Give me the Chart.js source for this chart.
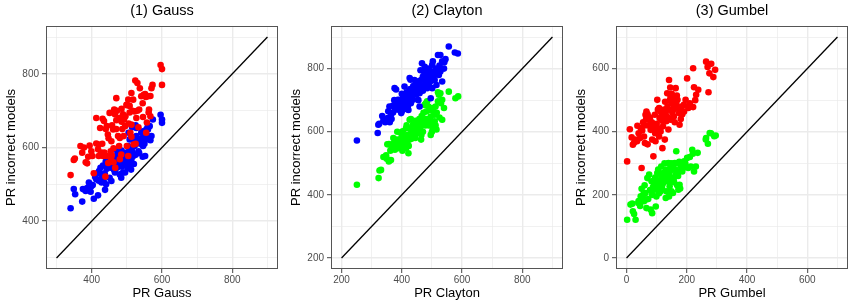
<!DOCTYPE html>
<html>
<head>
<meta charset="utf-8">
<script src="https://cdn.jsdelivr.net/npm/chart.js@4"></script>
<style>
  body { margin: 0; background: #fff; }
  #wrap { display: flex; width: 855px; height: 308px; }
  canvas { display: block; }
</style>
</head>
<body>
<div id="wrap">
  <canvas id="chart1" width="285" height="308"></canvas>
  <canvas id="chart2" width="285" height="308"></canvas>
  <canvas id="chart3" width="285" height="308"></canvas>
</div>
<script>
// (1) Gauss: red and blue clouds, [PR true model, PR incorrect model]
var gaussRed = [
  [340,525],[349,566],[352,570],[373,586],[368,604],[383,560],[387,557],[394,605],[399,590],[402,577],
  [406,530],[413,611],[420,608],[427,586],[432,577],[436,586],[439,521],[413,680],[424,653],[431,678],
  [435,672],[443,658],[451,694],[446,635],[454,590],[457,579],[461,649],[464,703],[470,734],[470,674],
  [475,631],[478,604],[480,568],[467,545],[484,581],[489,690],[492,676],[495,658],[499,716],[504,730],
  [508,713],[508,695],[500,604],[504,577],[513,748],[513,629],[518,730],[519,608],[524,782],[522,698],
  [527,680],[537,761],[541,739],[548,743],[554,737],[560,739],[557,668],[563,703],[567,685],[570,761],
  [573,770],[555,640],[546,683],[535,703],[596,824],[600,813],[600,770],[513,662],[491,631],[480,626],
  [456,617],[443,577],[420,577],[440,650],[448,625],[458,660],[466,690],[472,700],[485,670],[487,650],
  [496,685],[505,665],[510,640],[516,700],[530,700],[545,720],[552,745],[562,695],[430,610],[418,595],
  [462,598],[470,650],[478,680],[525,610],[533,655],[390,575],[378,600],[455,572],[447,558],[462,560],
  [485,705],[500,715],[530,775],[567,740]
];
var gaussBlue = [
  [340,435],[349,487],[353,473],[373,453],[375,487],[383,482],[392,505],[399,495],[406,461],[418,470],
  [413,514],[421,536],[428,527],[434,509],[438,485],[432,551],[443,542],[451,518],[461,572],[464,559],
  [470,577],[475,550],[480,527],[484,518],[489,532],[495,532],[491,568],[499,586],[503,604],[508,586],
  [513,568],[518,577],[522,604],[527,653],[535,622],[541,640],[546,604],[552,577],[555,622],[560,649],
  [565,658],[570,631],[574,676],[596,689],[600,676],[600,667],[546,644],[527,631],[508,622],[466,532],
  [456,509],[441,500],[428,505],[395,500],[403,498],[410,520],[416,530],[425,545],[437,530],[445,555],
  [450,560],[455,545],[458,565],[463,540],[468,560],[472,545],[476,570],[478,555],[482,575],[486,548],
  [488,560],[493,553],[497,560],[500,570],[502,545],[506,600],[510,555],[515,590],[520,615],[525,580],
  [530,620],[533,590],[538,610],[543,625],[548,635],[550,610],[556,650],[562,630],[567,620],[545,575],
  [535,585],[520,555],[512,540],[490,580],[485,592],[474,588],[440,562],[430,520],[420,510],[387,490],
  [397,480],[465,595],[505,640],[515,655],[525,660],[560,660],[480,560]
];
// (2) Clayton: blue and green clouds
var claytonBlue = [
  [251,572],[322,622],[320,596],[325,625],[339,636],[353,643],[359,680],[364,654],[371,661],[376,738],
  [381,734],[370,682],[387,701],[392,669],[398,690],[403,706],[409,695],[414,712],[420,680],[426,770],
  [429,765],[434,722],[440,734],[448,750],[453,739],[459,722],[467,817],[476,806],[481,796],[487,764],
  [464,764],[476,748],[484,738],[491,785],[496,774],[501,812],[503,823],[509,764],[515,748],[520,843],
  [528,843],[534,823],[541,820],[528,791],[534,759],[556,870],[576,851],[586,848],[511,785],[496,706],
  [523,780],[442,764],[409,743],[459,680],[437,701],[448,717],[491,754],[501,738],[422,669],[398,659],
  [407,675],[412,690],[360,630],[366,640],[378,670],[383,690],[390,700],[395,680],[400,720],[405,688],
  [410,705],[416,725],[420,700],[424,715],[428,735],[432,710],[438,745],[444,730],[450,725],[455,760],
  [460,750],[465,740],[470,775],[474,790],[480,760],[485,780],[490,800],[495,760],[500,790],[505,770],
  [512,800],[518,790],[525,810],[530,800],[470,730],[455,700],[430,690],[415,672],[400,665],[385,675],
  [375,700],[345,630],[335,650],[355,665],[462,795],[478,770],[540,800],[545,830]
];
var claytonGreen = [
  [251,432],[323,453],[326,477],[331,479],[339,520],[350,514],[357,506],[364,510],[357,561],[366,553],
  [375,566],[377,543],[398,580],[400,553],[409,564],[414,548],[422,532],[426,575],[431,596],[440,585],
  [448,611],[453,596],[464,575],[470,622],[476,638],[481,664],[476,685],[484,696],[491,669],[496,648],
  [501,675],[509,654],[509,633],[515,607],[496,590],[520,696],[523,717],[528,722],[534,701],[540,675],
  [534,638],[556,727],[578,706],[587,712],[426,638],[437,622],[414,611],[403,601],[392,564],[384,575],
  [370,560],[380,555],[388,548],[395,570],[402,540],[405,575],[410,585],[412,560],[418,570],[420,590],
  [423,555],[428,610],[432,578],[435,600],[442,600],[445,580],[450,625],[455,615],[458,640],[462,605],
  [466,650],[470,600],[472,660],[478,620],[482,640],[486,628],[490,620],[494,640],[498,625],[503,610],
  [505,665],[512,680],[516,660],[525,645],[488,680],[480,690],[460,625],[445,635],[430,640],[416,620],
  [398,595],[385,600],[372,580],[362,540],[352,560],[348,525],[465,590],[500,600],[512,620],[530,690],
  [520,725]
];
// (3) Gumbel: red and green clouds
var gumbelRed = [
  [2,306],[11,408],[17,382],[21,359],[30,375],[36,419],[47,412],[50,285],[52,404],[58,385],
  [61,364],[63,454],[66,464],[75,438],[80,406],[85,375],[89,322],[94,454],[99,417],[102,501],
  [108,475],[110,443],[113,401],[121,417],[127,375],[132,433],[135,522],[141,564],[146,512],[149,490],
  [154,469],[157,448],[160,506],[163,538],[169,501],[174,459],[176,422],[183,480],[191,464],[196,501],
  [201,569],[213,480],[221,601],[224,541],[231,517],[238,533],[264,622],[281,615],[288,573],[294,596],
  [269,605],[272,525],[221,478],[119,348],[124,448],[139,407],[146,438],[25,365],[40,395],[45,380],
  [55,430],[65,440],[70,455],[72,420],[78,445],[84,430],[90,410],[95,395],[100,425],[104,470],
  [106,410],[115,460],[118,435],[125,470],[128,495],[130,455],[136,480],[140,470],[144,500],[150,520],
  [152,460],[158,480],[165,490],[167,515],[170,475],[178,470],[185,455],[190,485],[205,475],[210,490],
  [228,500],[160,430],[108,385],[96,370],[82,420],[60,420],[150,440],[180,440],[138,445],[70,360],
  [35,370],[145,540],[275,585]
];
var gumbelGreen = [
  [2,121],[13,169],[19,172],[21,148],[25,139],[30,121],[39,174],[47,195],[50,219],[52,185],
  [58,180],[63,206],[66,158],[69,253],[75,264],[72,187],[80,153],[83,243],[85,142],[91,237],
  [97,163],[99,195],[102,269],[105,280],[108,243],[110,227],[113,211],[119,232],[124,253],[130,280],
  [132,211],[135,243],[139,301],[141,264],[146,290],[149,211],[152,243],[157,253],[160,301],[165,338],
  [169,274],[172,216],[176,232],[180,290],[185,274],[191,306],[201,317],[213,290],[218,343],[224,274],
  [230,290],[236,333],[263,375],[270,362],[276,396],[291,386],[296,388],[154,206],[141,195],[130,190],
  [113,248],[94,216],[121,269],[143,227],[163,264],[45,165],[55,200],[60,230],[78,215],[88,225],
  [100,240],[104,230],[112,265],[116,250],[118,220],[122,238],[127,260],[133,270],[138,250],[144,275],
  [148,255],[155,285],[158,240],[162,280],[167,300],[171,260],[175,305],[182,300],[188,285],[195,300],
  [205,285],[210,320],[220,330],[115,290],[126,300],[95,255],[85,200],[140,300],[150,300],[178,220],
  [168,230],[108,205],[65,185],[40,180],[264,380],[280,395]
];

// y = x reference lines
var diagGauss = [300, 900];
var diagClayton = [200, 900];
var diagGumbel = [0, 700];

// axis ranges, grid lines and labelled ticks
var rangeGauss = [270, 930];
var rangeClayton = [165, 935];
var rangeGumbel = [-35, 735];
var gridGauss = [300, 400, 500, 600, 700, 800, 900];
var gridClayton = [200, 300, 400, 500, 600, 700, 800, 900];
var gridGumbel = [0, 100, 200, 300, 400, 500, 600, 700];
var labelsGauss = [400, 600, 800];
var labelsClayton = [200, 400, 600, 800];
var labelsGumbel = [0, 200, 400, 600];

Chart.defaults.font.family = "'Liberation Sans', Arial, sans-serif";

function pts(arr) {
  return arr.map(function (p) { return { x: p[0], y: p[1] }; });
}

function axis(range, grid, labels, title, isY) {
  return {
    type: 'linear',
    min: range[0],
    max: range[1],
    afterBuildTicks: function (scale) {
      scale.ticks = grid.map(function (v) { return { value: v }; });
    },
    afterFit: function (scale) {
      if (isY) scale.width = 46; else scale.height = 39;
    },
    border: { display: false },
    grid: {
      color: '#ebebeb',
      lineWidth: function (c) { return labels.indexOf(c.tick.value) >= 0 ? 1.4 : 0.7; },
      tickColor: function (c) { return labels.indexOf(c.tick.value) >= 0 ? '#444444' : 'rgba(0,0,0,0)'; },
      tickWidth: 1,
      tickLength: 4
    },
    ticks: {
      autoSkip: false,
      maxRotation: 0,
      padding: isY ? 3 : 1,
      color: '#4d4d4d',
      font: { size: 10 },
      callback: function (v) { return labels.indexOf(v) >= 0 ? String(v) : ''; }
    },
    title: {
      display: true,
      text: title,
      color: '#000',
      font: { size: 13 },
      padding: isY ? { top: 4, bottom: 0 } : { top: 0, bottom: 7 }
    }
  };
}

var boxPlugin = {
  id: 'box',
  afterDraw: function (chart) {
    var a = chart.chartArea, ctx = chart.ctx;
    ctx.save();
    ctx.strokeStyle = '#555555';
    ctx.lineWidth = 1;
    ctx.strokeRect(a.left + 0.5, a.top + 0.5, a.right - a.left - 1, a.bottom - a.top - 1);
    ctx.restore();
  }
};

function config(title, xTitle, diag, range, grid, labels, s1, c1, s2, c2) {
  return {
    type: 'scatter',
    data: {
      datasets: [
        {
          type: 'line',
          data: [{ x: diag[0], y: diag[0] }, { x: diag[1], y: diag[1] }],
          borderColor: '#000',
          borderWidth: 1.3,
          pointRadius: 0,
          fill: false
        },
        { data: pts(s1), backgroundColor: c1, borderWidth: 0, pointRadius: 3.3 },
        { data: pts(s2), backgroundColor: c2, borderWidth: 0, pointRadius: 3.3 }
      ]
    },
    options: {
      responsive: false,
      animation: false,
      layout: { padding: { left: 0, right: 7, top: 0, bottom: 0 } },
      plugins: {
        legend: { display: false },
        tooltip: { enabled: false },
        title: {
          display: true,
          text: title,
          fullSize: false,
          color: '#000',
          font: { size: 14.5, weight: 'normal' },
          padding: { top: 2, bottom: 6.6 }
        }
      },
      scales: {
        x: axis(range, grid, labels, xTitle, false),
        y: axis(range, grid, labels, 'PR incorrect models', true)
      }
    },
    plugins: [boxPlugin]
  };
}

new Chart(document.getElementById('chart1'),
  config('(1) Gauss', 'PR Gauss', diagGauss, rangeGauss, gridGauss, labelsGauss,
    gaussRed, '#ff0000', gaussBlue, '#0000ff'));
new Chart(document.getElementById('chart2'),
  config('(2) Clayton', 'PR Clayton', diagClayton, rangeClayton, gridClayton, labelsClayton,
    claytonBlue, '#0000ff', claytonGreen, '#00ff00'));
new Chart(document.getElementById('chart3'),
  config('(3) Gumbel', 'PR Gumbel', diagGumbel, rangeGumbel, gridGumbel, labelsGumbel,
    gumbelRed, '#ff0000', gumbelGreen, '#00ff00'));
</script>
</body>
</html>
